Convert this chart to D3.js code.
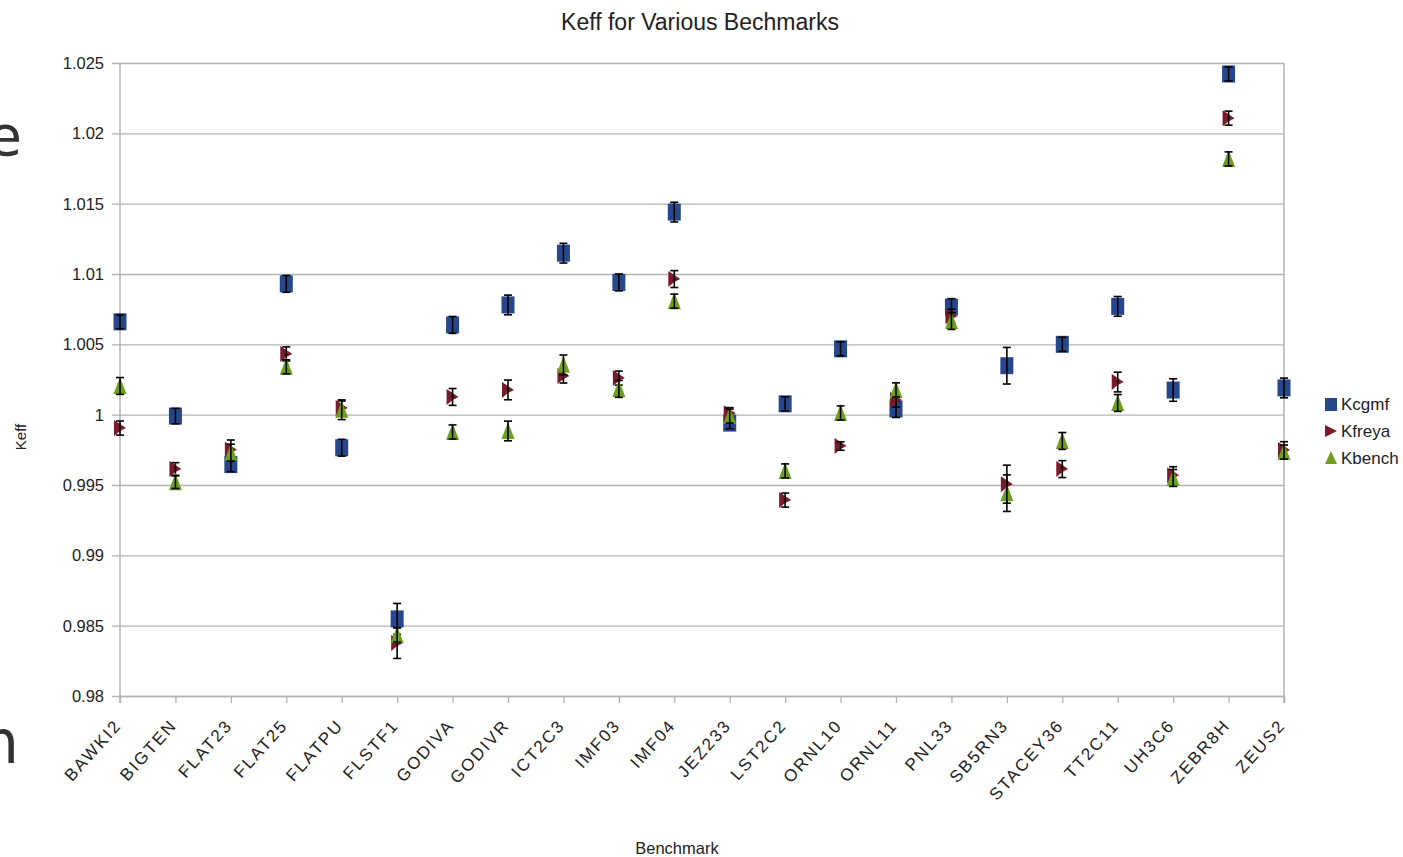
<!DOCTYPE html>
<html>
<head>
<meta charset="utf-8">
<script src="https://cdn.jsdelivr.net/npm/d3@7"></script>
<style>
  body { margin: 0; background: #fff; }
  svg { display: block; }
  text { font-family: "Liberation Sans", Arial, sans-serif; }
</style>
</head>
<body>
<div id="chart"></div>
<script>
// benchmark names along the x axis
const benchmarks = ["BAWKI2", "BIGTEN", "FLAT23", "FLAT25", "FLATPU", "FLSTF1", "GODIVA", "GODIVR",
  "ICT2C3", "IMF03", "IMF04", "JEZ233", "LST2C2", "ORNL10", "ORNL11", "PNL33", "SB5RN3",
  "STACEY36", "TT2C11", "UH3C6", "ZEBR8H", "ZEUS2"];

const kcgmf    = [1.0066, 0.9999, 0.99645, 1.0093, 0.99765, 0.98548, 1.00638, 1.0078, 1.01148, 1.0094, 1.0144,
  0.9994, 1.00077, 1.00468, 1.0004, 1.00765, 1.00348, 1.005, 1.0077, 1.00175, 1.02422, 1.0019];
const kcgmfErr = [0.0005, 0.00055, 0.0005, 0.0006, 0.0006, 0.0011, 0.0006, 0.0007, 0.0007, 0.0006, 0.0007,
  0.0004, 0.0005, 0.0005, 0.0006, 0.0006, 0.0013, 0.0005, 0.0007, 0.0008, 0.0005, 0.0007];

const kfreya    = [0.99905, 0.99614, 0.9975, 1.00432, 1.00048, 0.98377, 1.00126, 1.00176, 1.00275, 1.0026, 1.00964,
  1.0001, 0.99393, 0.99777, 1.00104, 1.007, 0.99506, 0.99613, 1.00232, 0.9957, 1.02108, 0.99748];
const kfreyaErr = [0.0005, 0.00045, 0.0007, 0.0005, 0.0005, 0.0011, 0.0006, 0.0007, 0.0005, 0.0005, 0.0006,
  0.0004, 0.0005, 0.0003, 0.0005, 0.0005, 0.00135, 0.0006, 0.0007, 0.0006, 0.0005, 0.0006];

const kbench    = [1.00204, 0.9952, 0.9973, 1.0034, 1.00035, 0.98434, 0.99877, 0.99884, 1.00354, 1.00183, 1.00807,
  0.9999, 0.996, 1.00012, 1.00176, 1.00666, 0.99442, 0.99813, 1.00083, 0.9955, 1.01818, 0.99734];
const kbenchErr = [0.0006, 0.00045, 0.0006, 0.0005, 0.0007, 0.0005, 0.0005, 0.0007, 0.0007, 0.0006, 0.0005,
  0.0005, 0.0005, 0.0005, 0.0005, 0.0006, 0.0013, 0.0006, 0.0006, 0.0006, 0.0005, 0.0005];

const yTicks = [0.98, 0.985, 0.99, 0.995, 1, 1.005, 1.01, 1.015, 1.02, 1.025];
const seriesNames = ["Kcgmf", "Kfreya", "Kbench"];
const seriesColors = ["#26478c", "#7b1a2b", "#6f9f1e"];

const width = 1403, height = 857;
const plotLeft = 120, plotRight = 1284, plotTop = 63, plotBottom = 696;

const svg = d3.select("#chart").append("svg")
  .attr("width", width)
  .attr("height", height);

const x = d3.scalePoint().domain(benchmarks).range([plotLeft, plotRight]).padding(0);
const y = d3.scaleLinear().domain([0.98, 1.025]).range([plotBottom, plotTop]);

// stray slide text peeking in at the left edge
svg.append("text").attr("x", 22).attr("y", 155).attr("text-anchor", "end")
  .style("font-family", "DejaVu Sans").attr("font-size", 56).attr("fill", "#333").text("e");
svg.append("text").attr("x", 19).attr("y", 763).attr("text-anchor", "end")
  .style("font-family", "DejaVu Sans").attr("font-size", 60).attr("fill", "#333").text("m");

// horizontal gridlines + y axis
const yAxis = d3.axisLeft(y).tickValues(yTicks).tickSize(-(plotRight - plotLeft))
  .tickFormat(d => d3.format("")(+d.toFixed(3)));
const gy = svg.append("g").attr("transform", `translate(${plotLeft},0)`).call(yAxis);
gy.select(".domain").remove();
gy.selectAll(".tick line").attr("stroke", "#b3b3b3").attr("stroke-width", 1.3).attr("x1", -8);
gy.selectAll(".tick text").attr("font-size", 16.5).attr("fill", "#222").attr("dy", "0.34em").attr("x", -16);

// x axis
const xAxis = d3.axisBottom(x).tickSize(7);
const gx = svg.append("g").attr("transform", `translate(0,${plotBottom})`).call(xAxis);
gx.select(".domain").attr("stroke", "#b3b3b3").attr("stroke-width", 1.3);
gx.selectAll(".tick line").attr("stroke", "#b3b3b3").attr("stroke-width", 1.3);
gx.selectAll(".tick text")
  .attr("font-size", 17).attr("fill", "#222")
  .attr("letter-spacing", 2)
  .attr("text-anchor", "end")
  .attr("transform", "translate(2,30) rotate(-48)")
  .attr("dy", 0).attr("y", 0).attr("x", 0);

// left and right frame lines
svg.append("line").attr("x1", plotLeft).attr("x2", plotLeft).attr("y1", plotTop).attr("y2", plotBottom + 7)
  .attr("stroke", "#b3b3b3").attr("stroke-width", 1.5);
svg.append("line").attr("x1", plotRight).attr("x2", plotRight).attr("y1", plotTop).attr("y2", plotBottom + 7)
  .attr("stroke", "#b3b3b3").attr("stroke-width", 1.5);

// markers
function drawMarker(sel, type, color) {
  if (type === 0) {
    sel.append("rect").attr("x", -6.5).attr("y", -8.5).attr("width", 13).attr("height", 17).attr("fill", color);
  } else if (type === 1) {
    sel.append("path").attr("d", "M-6,-8 L0,-4 L6,0 L0,3 L-6,8 Z").attr("fill", color);
  } else {
    sel.append("path").attr("d", "M0,-9 L6.5,8 L-6.5,8 Z").attr("fill", color);
  }
}

const allSeries = [[kcgmf, kcgmfErr], [kfreya, kfreyaErr], [kbench, kbenchErr]];

allSeries.forEach(([vals, errs], si) => {
  const g = svg.append("g");
  const pts = g.selectAll("g.pt").data(benchmarks).enter().append("g")
    .attr("class", "pt")
    .attr("transform", (d, i) => `translate(${x(d)},${y(vals[i])})`);
  drawMarker(pts, si, seriesColors[si]);

  // error bars
  const eb = g.selectAll("g.err").data(benchmarks).enter().append("g").attr("class", "err")
    .attr("transform", d => `translate(${x(d)},0)`);
  eb.append("line")
    .attr("y1", (d, i) => y(vals[i] + errs[i])).attr("y2", (d, i) => y(vals[i] - errs[i]))
    .attr("stroke", "#000").attr("stroke-width", 1.6);
  eb.append("line").attr("x1", -4).attr("x2", 4)
    .attr("y1", (d, i) => y(vals[i] + errs[i])).attr("y2", (d, i) => y(vals[i] + errs[i]))
    .attr("stroke", "#000").attr("stroke-width", 1.6);
  eb.append("line").attr("x1", -4).attr("x2", 4)
    .attr("y1", (d, i) => y(vals[i] - errs[i])).attr("y2", (d, i) => y(vals[i] - errs[i]))
    .attr("stroke", "#000").attr("stroke-width", 1.6);
});

// title and axis titles
svg.append("text").attr("x", 700).attr("y", 30).attr("text-anchor", "middle")
  .attr("font-size", 23).attr("fill", "#222").text("Keff for Various Bechmarks");
svg.append("text").attr("transform", "translate(26,437) rotate(-90)").attr("text-anchor", "middle")
  .attr("font-size", 15).attr("fill", "#222").text("Keff");
svg.append("text").attr("x", 677).attr("y", 854).attr("text-anchor", "middle")
  .attr("font-size", 16.5).attr("fill", "#222").text("Benchmark");

// legend
const legend = svg.append("g").attr("transform", "translate(1331,404)");
seriesNames.forEach((name, i) => {
  const row = legend.append("g").attr("transform", `translate(0,${i * 27})`);
  const m = row.append("g");
  if (i === 0) m.append("rect").attr("x", -6).attr("y", -6).attr("width", 12).attr("height", 13).attr("fill", seriesColors[i]);
  else if (i === 1) m.append("path").attr("d", "M-6,-6 L6,0 L-6,6 Z").attr("fill", seriesColors[i]);
  else m.append("path").attr("d", "M0,-7 L6,6 L-6,6 Z").attr("fill", seriesColors[i]);
  row.append("text").attr("x", 10).attr("dy", "0.35em").attr("font-size", 17).attr("fill", "#222").text(name);
});
</script>
</body>
</html>
